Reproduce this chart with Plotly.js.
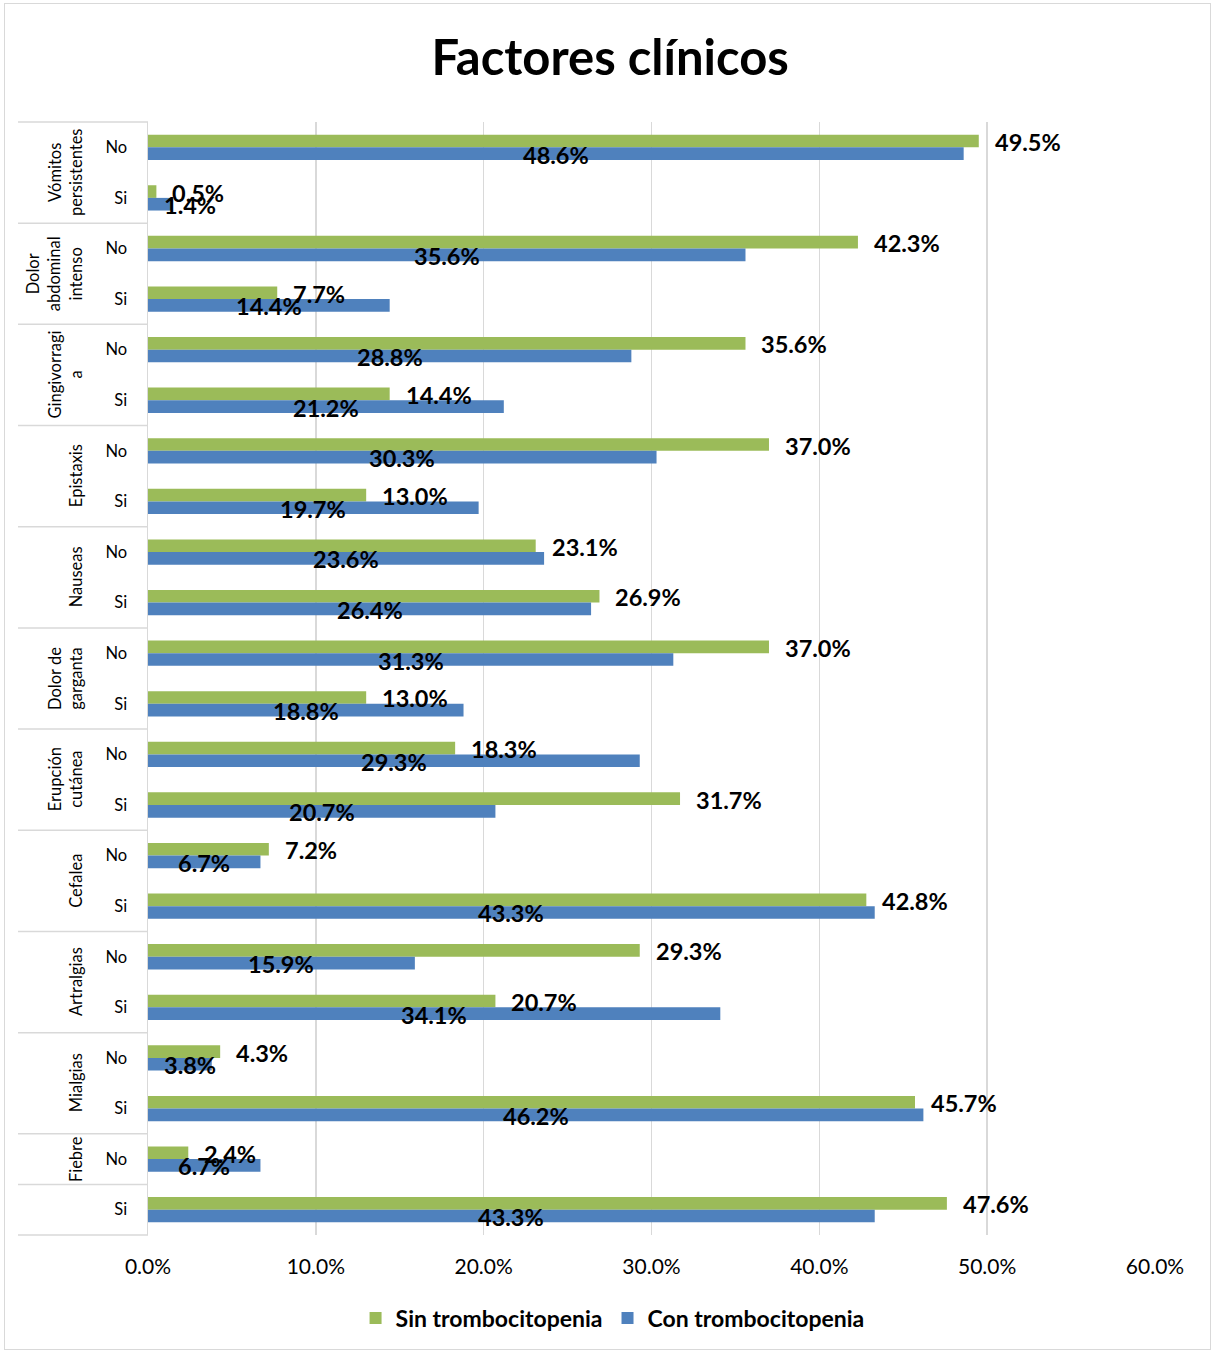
<!DOCTYPE html>
<html>
<head>
<meta charset="utf-8">
<script src="https://cdn.plot.ly/plotly-3.0.1.min.js"></script>
<style>
  html, body { margin: 0; padding: 0; background: #fff; }
  #wrap { position: relative; width: 1213px; height: 1353px; }
  #chart { position: absolute; left: 0; top: 0; width: 1213px; height: 1353px; }
  #frame { position: absolute; left: 4px; top: 3px; width: 1207px; height: 1347px;
           border: 1.5px solid #d9d9d9; box-sizing: border-box; pointer-events: none; }
</style>
</head>
<body>
<div id="wrap"><div id="chart"></div><div id="frame"></div></div>
<script>
// ---- data ----
const grupos = ["Vómitos<br>persistentes", "Dolor<br>abdominal<br>intenso", "Gingivorragi<br>a",
  "Epistaxis", "Nauseas", "Dolor de<br>garganta", "Erupción<br>cutánea", "Cefalea",
  "Artralgias", "Mialgias", "Fiebre", ""];
const filasPorGrupo = [2, 2, 2, 2, 2, 2, 2, 2, 2, 2, 1, 1];
const respuestas = ["No", "Si", "No", "Si", "No", "Si", "No", "Si", "No", "Si", "No", "Si",
  "No", "Si", "No", "Si", "No", "Si", "No", "Si", "No", "Si"];
const sinTrombocitopenia = [49.5, 0.5, 42.3, 7.7, 35.6, 14.4, 37.0, 13.0, 23.1, 26.9, 37.0, 13.0,
  18.3, 31.7, 7.2, 42.8, 29.3, 20.7, 4.3, 45.7, 2.4, 47.6];
const conTrombocitopenia = [48.6, 1.4, 35.6, 14.4, 28.8, 21.2, 30.3, 19.7, 23.6, 26.4, 31.3, 18.8,
  29.3, 20.7, 6.7, 43.3, 15.9, 34.1, 3.8, 46.2, 6.7, 43.3];
const xTicks = [0, 10, 20, 30, 40, 50, 60];
const xTickLabels = ["0.0%", "10.0%", "20.0%", "30.0%", "40.0%", "50.0%", "60.0%"];
const serieNombres = ["Sin trombocitopenia", "Con trombocitopenia"];

// ---- styling ----
const GREEN = "#9BBB59", BLUE = "#4F81BD", GRID = "#d9d9d9";
const FONT = "Lato, 'Open Sans', sans-serif";
const W = 1213, H = 1353;
const M = { l: 148, r: 58, t: 122, b: 118 };
const plotW = W - M.l - M.r;
const tableLeft = 18;
const filas = respuestas.map((_, i) => i);
const yRange = [filas.length - 0.5, -0.5];
const rowToPaper = r => (yRange[0] - r) / (yRange[0] - yRange[1]);
const fmt = v => v.toFixed(1) + "%";
const OFF = 0.125;

const traces = [
  { type: "bar", orientation: "h", name: serieNombres[0], x: sinTrombocitopenia, y: filas,
    marker: { color: GREEN }, hoverinfo: "skip" },
  { type: "bar", orientation: "h", name: serieNombres[1], x: conTrombocitopenia, y: filas,
    marker: { color: BLUE }, hoverinfo: "skip" }
];

const annotations = [];
const labelFont = { family: FONT, size: 23.5, color: "#000", weight: "bold" };
// blue labels (centered in bar)
conTrombocitopenia.forEach((v, i) => {
  annotations.push({ xref: "x", yref: "y", x: Math.max(v / 2, 2.5), y: filas[i] + OFF,
    text: "<b>" + fmt(v) + "</b>", showarrow: false, xanchor: "center", yanchor: "middle",
    yshift: -1, font: labelFont });
});
// green labels (outside end)
sinTrombocitopenia.forEach((v, i) => {
  annotations.push({ xref: "x", yref: "y", x: v, y: filas[i] - OFF,
    text: "<b>" + fmt(v) + "</b>", showarrow: false, xanchor: "left", yanchor: "middle",
    xshift: 14, yshift: -1, font: labelFont });
});

// group labels and divider lines
const shapes = [];
let start = 0;
const lineStyle = { color: GRID, width: 1.5 };
shapes.push({ type: "line", xref: "paper", yref: "paper", x0: -(M.l - tableLeft) / plotW, x1: 0,
  y0: rowToPaper(start - 0.5), y1: rowToPaper(start - 0.5), line: lineStyle });
grupos.forEach((g, k) => {
  const n = filasPorGrupo[k];
  const end = start + n - 1;
  if (g) {
    annotations.push({ xref: "paper", yref: "y", x: 0, xshift: -60, y: (start + end) / 2,
      text: g, textangle: -90, showarrow: false, xanchor: "right", yanchor: "middle",
      align: "center", font: { family: FONT, size: 16.5, color: "#000" } });
  }
  shapes.push({ type: "line", xref: "paper", yref: "paper", x0: -(M.l - tableLeft) / plotW, x1: 0,
    y0: rowToPaper(end + 0.5), y1: rowToPaper(end + 0.5), line: lineStyle });
  start = end + 1;
});

const layout = {
  width: W, height: H,
  margin: M,
  paper_bgcolor: "#fff", plot_bgcolor: "#fff",
  title: { text: "<b>Factores clínicos</b>", font: { family: FONT, size: 49, color: "#000" },
    xref: "container", x: 0.503, yref: "container", y: 1 - 58 / H, yanchor: "middle", xanchor: "center" },
  barmode: "group", bargap: 0.5, bargroupgap: 0,
  xaxis: { range: [0, 60], tickvals: xTicks, ticktext: xTickLabels, showgrid: true,
    gridcolor: GRID, gridwidth: 1.5, zeroline: false, showline: false, ticks: "",
    ticklabelstandoff: 17, tickfont: { family: FONT, size: 21, color: "#000" }, fixedrange: true },
  yaxis: { range: yRange, tickvals: filas, ticktext: respuestas, showgrid: false, zeroline: false,
    showline: true, linecolor: GRID, linewidth: 1.5, ticks: "", ticklabelstandoff: 16,
    tickfont: { family: FONT, size: 16.5, color: "#000" }, fixedrange: true },
  legend: { orientation: "h", xref: "container", x: 0.505, xanchor: "center",
    yref: "container", y: 1 - 1318 / H, yanchor: "middle",
    font: { family: FONT, size: 23, color: "#000", weight: "bold" }, traceorder: "normal" },
  annotations: annotations,
  shapes: shapes,
  showlegend: true
};

Plotly.newPlot("chart", traces, layout, { displayModeBar: false, staticPlot: true });
</script>
</body>
</html>
